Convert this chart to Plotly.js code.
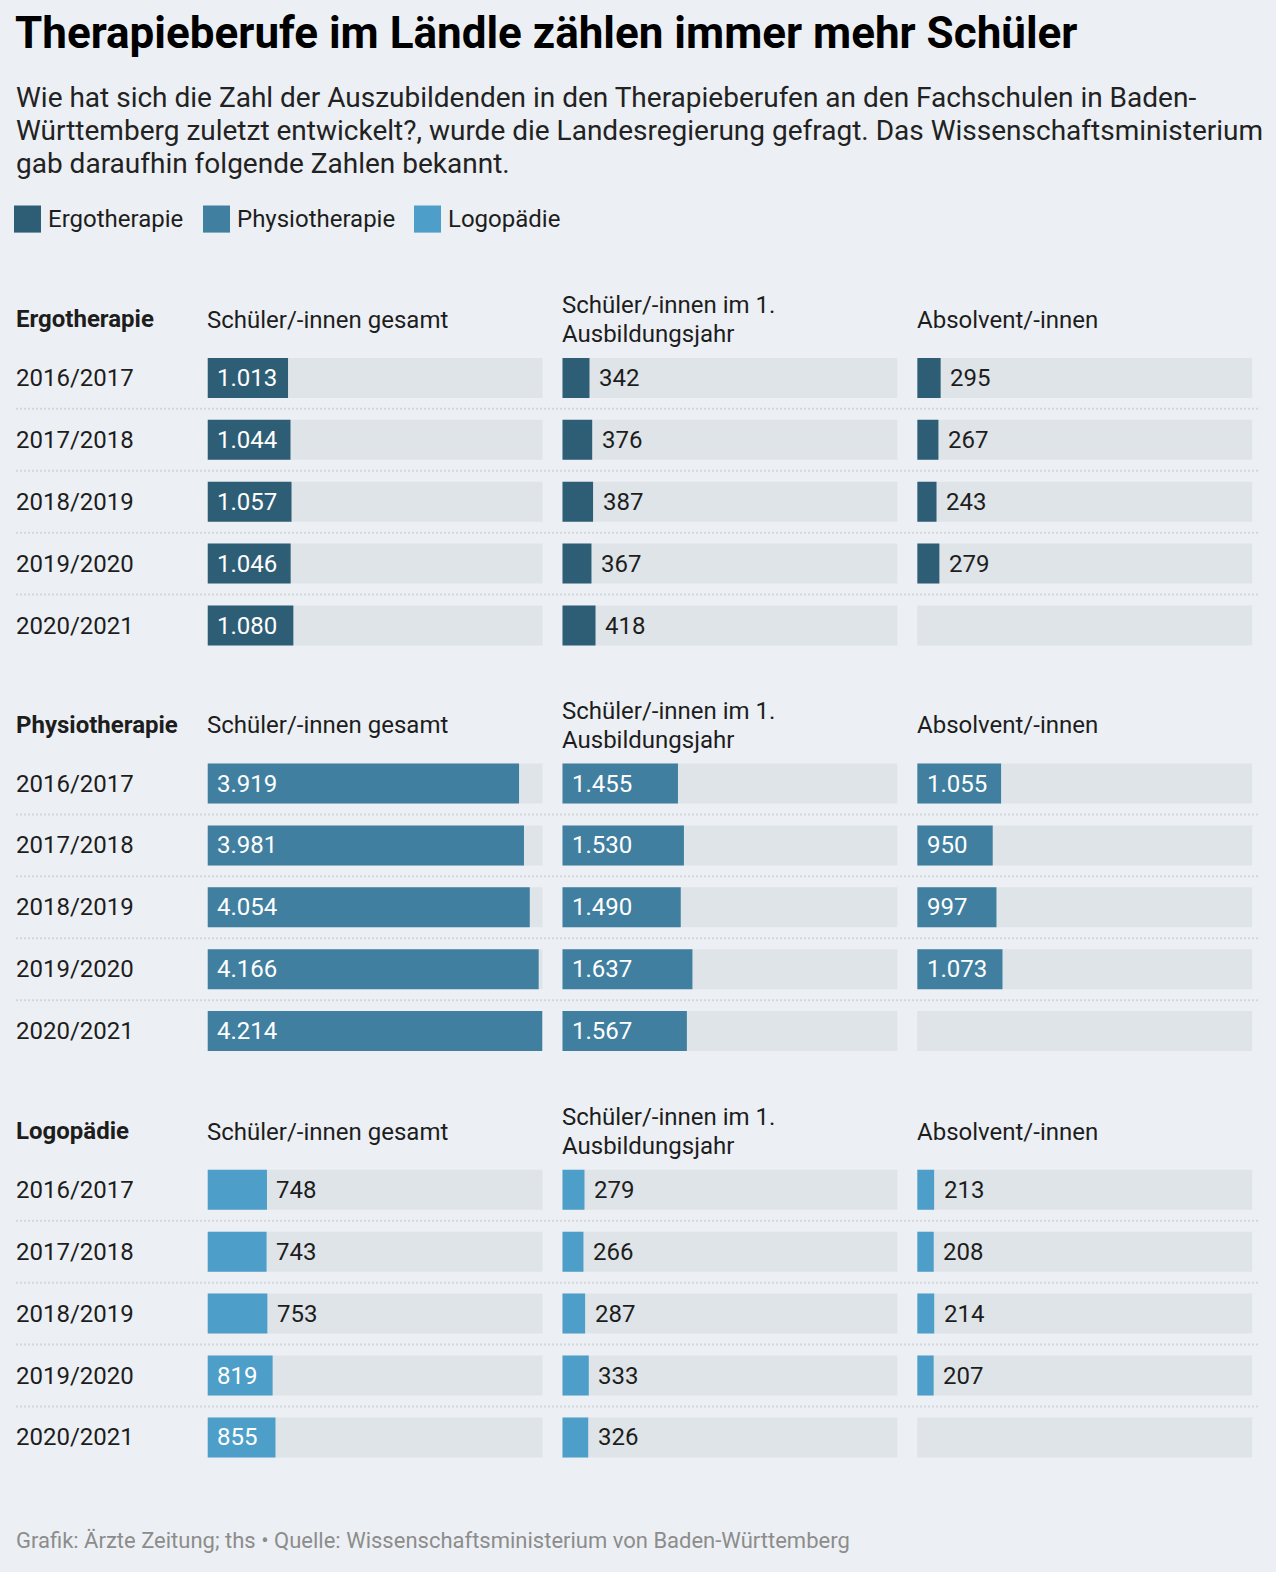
<!DOCTYPE html>
<html lang="de">
<head>
<meta charset="utf-8">
<title>Therapieberufe im Ländle zählen immer mehr Schüler</title>
<script src="https://cdn.plot.ly/plotly-3.0.1.min.js"></script>
<style>
  html, body { margin: 0; padding: 0; background: #ecf0f4; }
  #chart { width: 1276px; height: 1572px; }
</style>
</head>
<body>
<div id="chart"></div>
<script>
// ---- Data -------------------------------------------------------------
const years = ['2016/2017', '2017/2018', '2018/2019', '2019/2020', '2020/2021'];
const professions = ['Ergotherapie', 'Physiotherapie', 'Logopädie'];
const measures = ['Schüler/-innen gesamt', 'Schüler/-innen im 1.<br>Ausbildungsjahr', 'Absolvent/-innen'];

const ergoTotal      = [1013, 1044, 1057, 1046, 1080];
const ergoFirstYear  = [342, 376, 387, 367, 418];
const ergoGraduates  = [295, 267, 243, 279, null];

const physioTotal     = [3919, 3981, 4054, 4166, 4214];
const physioFirstYear = [1455, 1530, 1490, 1637, 1567];
const physioGraduates = [1055, 950, 997, 1073, null];

const logoTotal     = [748, 743, 753, 819, 855];
const logoFirstYear = [279, 266, 287, 333, 326];
const logoGraduates = [213, 208, 214, 207, null];

const table = [
  [ergoTotal, ergoFirstYear, ergoGraduates],
  [physioTotal, physioFirstYear, physioGraduates],
  [logoTotal, logoFirstYear, logoGraduates]
];

const titleText = 'Therapieberufe im Ländle zählen immer mehr Schüler';
const subtitleLines = [
  'Wie hat sich die Zahl der Auszubildenden in den Therapieberufen an den Fachschulen in Baden-',
  'Württemberg zuletzt entwickelt?, wurde die Landesregierung gefragt. Das Wissenschaftsministerium',
  'gab daraufhin folgende Zahlen bekannt.'
];
const footerText = 'Grafik: Ärzte Zeitung; ths • Quelle: Wissenschaftsministerium von Baden-Württemberg';

// ---- Style & geometry -------------------------------------------------
const W = 1276, H = 1572;
const BG = '#ecf0f4';
const TRACK = '#dfe4e8';
const SEP = '#d2d7dc';
const INK = '#1d1d1d';
const barColors = ['#2e5e76', '#407fa0', '#4d9ec9'];
const FONT = 'Roboto, "Noto Sans", sans-serif';

const colX0 = [207.5, 562.3, 917.2];      // left edge of each column's track (px)
const colW = 335;                          // track width (px)
const firstRowY = [377.9, 783.5, 1189.8];  // centre of first row in each block (px)
const rowPitch = 61.9;
const barThickness = 0.646;                // in row units
const headerOffset = 59.3;                 // block header above first row centre
const insideMin = 800;                     // shorter bars carry their number outside
const textLeft = 14;

const scaleMax = Math.max(...table.flat(2).filter(v => v != null));

const px2x = p => p / W;
const px2y = p => 1 - p / H;
const fmt = v => String(v).replace(/\B(?=(\d{3})+(?!\d))/g, '.');

const traces = [];
const shapes = [];
const annotations = [];
const layout = {
  width: W, height: H,
  margin: { l: 0, r: 0, t: 0, b: 0, pad: 0 },
  paper_bgcolor: BG,
  plot_bgcolor: 'rgba(0,0,0,0)',
  showlegend: false,
  font: { family: FONT, size: 24, color: INK },
  title: {
    text: '<b>' + titleText + '</b>',
    x: px2x(15), xanchor: 'left', xref: 'paper',
    y: px2y(33), yanchor: 'middle', yref: 'paper',
    font: { family: FONT, size: 44, color: '#000' }
  }
};

// ---- Blocks -----------------------------------------------------------
professions.forEach((prof, s) => {
  const topPx = firstRowY[s] - rowPitch / 2;
  const botPx = firstRowY[s] + rowPitch * (years.length - 0.5);
  const yDomain = [px2y(botPx), px2y(topPx)];
  const headerPx = firstRowY[s] - headerOffset;

  annotations.push({
    text: '<b>' + prof + '</b>', xref: 'paper', yref: 'paper',
    x: px2x(textLeft), y: px2y(headerPx + 0.5), xanchor: 'left', yanchor: 'middle',
    showarrow: false, font: { size: 24, color: INK }
  });

  measures.forEach((m, c) => {
    const k = s * 3 + c + 1;
    const xs = k === 1 ? 'x' : 'x' + k;
    const ys = k === 1 ? 'y' : 'y' + k;
    const xKey = k === 1 ? 'xaxis' : 'xaxis' + k;
    const yKey = k === 1 ? 'yaxis' : 'yaxis' + k;
    layout[xKey] = {
      domain: [px2x(colX0[c]), px2x(colX0[c] + colW)],
      range: [0, scaleMax], visible: false, fixedrange: true, anchor: ys
    };
    layout[yKey] = {
      domain: yDomain, range: [years.length - 0.5, -0.5],
      visible: false, fixedrange: true, anchor: xs
    };

    // column header (one or two lines)
    const lines = m.split('<br>');
    const lh = 29;
    lines.forEach((ln, li) => {
      const offset = (li - (lines.length - 1) / 2) * lh;
      annotations.push({
        text: ln, xref: 'paper', yref: 'paper',
        x: px2x(colX0[c] - 2.5), y: px2y(headerPx + 1 + offset),
        xanchor: 'left', yanchor: 'middle', showarrow: false,
        font: { size: 24, color: INK }
      });
    });

    const vals = table[s][c];
    const rowIdx = years.map((_, i) => i);

    // grey track behind every row
    years.forEach((_, i) => {
      shapes.push({
        type: 'rect', layer: 'below',
        xref: xs + ' domain', yref: ys,
        x0: 0, x1: 1, y0: i - barThickness / 2, y1: i + barThickness / 2,
        fillcolor: TRACK, line: { width: 0 }
      });
    });

    traces.push({
      type: 'bar', orientation: 'h',
      x: vals, y: rowIdx, xaxis: xs, yaxis: ys,
      width: barThickness,
      marker: { color: barColors[s], line: { width: 0 } },
      hoverinfo: 'skip', showlegend: false
    });

    // value labels: inside the bar in white, or just past its end
    vals.forEach((v, i) => {
      if (v == null) return;
      const inside = v >= insideMin;
      annotations.push({
        text: fmt(v), xref: xs, yref: ys,
        x: inside ? 0 : v, y: i, xshift: inside ? 7.5 : 7.5,
        xanchor: 'left', yanchor: 'middle', showarrow: false,
        font: { size: 24, color: inside ? '#ffffff' : INK }
      });
    });
  });

  // row labels and dotted separators
  const ysFirst = s === 0 ? 'y' : 'y' + (s * 3 + 1);
  years.forEach((yr, i) => {
    annotations.push({
      text: yr, xref: 'paper', yref: ysFirst,
      x: px2x(textLeft), y: i, xanchor: 'left', yanchor: 'middle',
      showarrow: false, font: { size: 24, color: INK }
    });
    if (i < years.length - 1) {
      shapes.push({
        type: 'line', layer: 'below', xref: 'paper', yref: ysFirst,
        x0: px2x(16), x1: px2x(1258), y0: i + 0.5, y1: i + 0.5,
        line: { color: SEP, width: 2, dash: '2px,2px' }
      });
    }
  });
});

// ---- Subtitle, legend, footer -----------------------------------------
const subtitleY = [97.2, 130.3, 163.4];
subtitleLines.forEach((ln, i) => {
  annotations.push({
    text: ln, xref: 'paper', yref: 'paper',
    x: px2x(textLeft), y: px2y(subtitleY[i]), xanchor: 'left', yanchor: 'middle',
    showarrow: false, font: { size: 28, color: '#222' }
  });
});

const legendSwatchX = [14, 203, 414];
professions.forEach((prof, i) => {
  shapes.push({
    type: 'rect', xref: 'paper', yref: 'paper',
    x0: px2x(legendSwatchX[i]), x1: px2x(legendSwatchX[i] + 27),
    y0: px2y(232.6), y1: px2y(205.5),
    fillcolor: barColors[i], line: { width: 0 }
  });
  annotations.push({
    text: prof, xref: 'paper', yref: 'paper',
    x: px2x(legendSwatchX[i] + 32), y: px2y(219), xanchor: 'left', yanchor: 'middle',
    showarrow: false, font: { size: 24, color: INK }
  });
});

annotations.push({
  text: footerText, xref: 'paper', yref: 'paper',
  x: px2x(textLeft), y: px2y(1540.5), xanchor: 'left', yanchor: 'middle',
  showarrow: false, font: { size: 22, color: '#8c8c8c' }
});

layout.shapes = shapes;
layout.annotations = annotations;

Plotly.newPlot('chart', traces, layout, { displayModeBar: false, staticPlot: true });
</script>
</body>
</html>
